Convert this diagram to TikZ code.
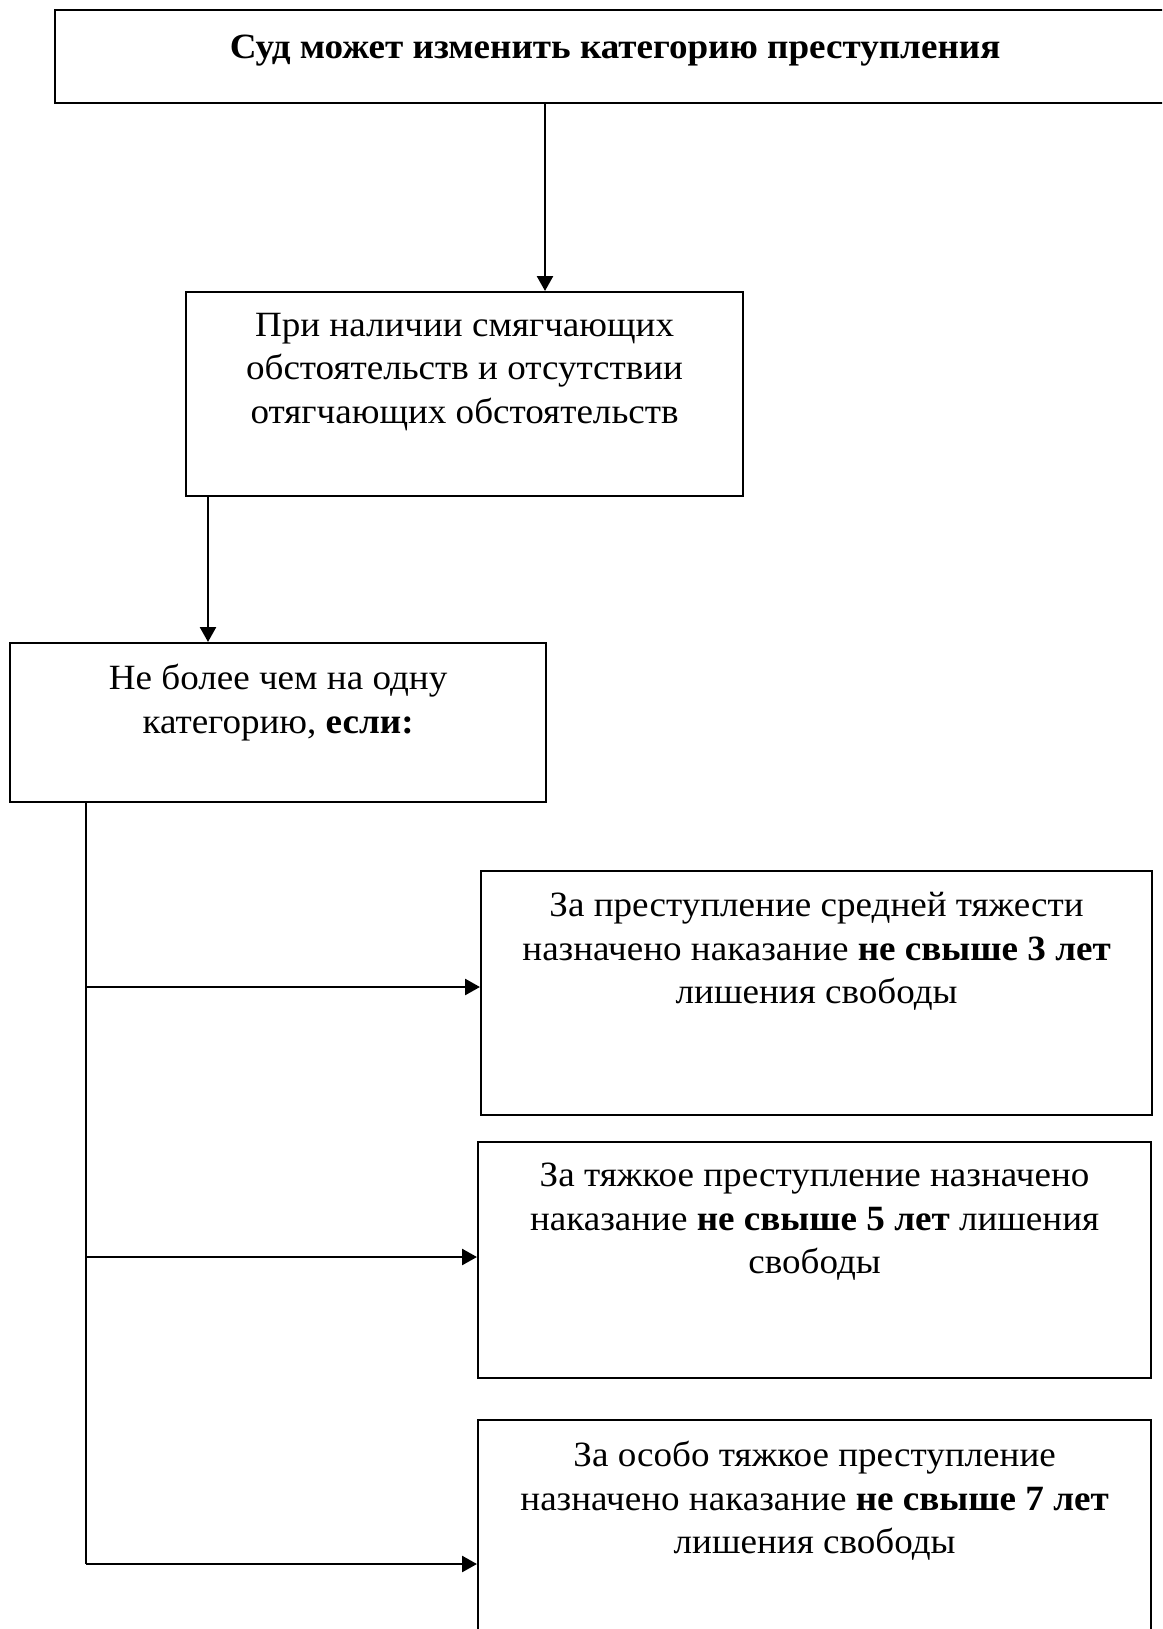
\documentclass[tikz,border=0pt]{standalone}
\usepackage{fontspec}
\setmainfont[FakeStretch=1.045]{Liberation Serif}
\usetikzlibrary{arrows.meta}
\begin{document}
\begin{tikzpicture}[x=1pt,y=-1pt,
  box/.style={draw, line width=2.2pt, rectangle, inner sep=0pt, anchor=north west},
  txt/.style={anchor=north, align=center, inner sep=0pt,
    font=\fontsize{35.5}{43.5}\selectfont, execute at begin node={\rule{0pt}{30pt}}},
  arr/.style={-{Triangle[length=15pt,width=16pt]}, line width=2.6pt},
  trunk/.style={line width=2.1pt}
]
\useasboundingbox (0,0) rectangle (1162,1629);
\clip (0,0) rectangle (1162,1629);
% boxes
\node[box, minimum width=1120pt, minimum height=93pt] (top) at (54,9) {};
\node[box, minimum width=557pt, minimum height=204pt] (cond) at (185,291) {};
\node[box, minimum width=536pt, minimum height=159pt] (one) at (9,642) {};
\node[box, minimum width=671pt, minimum height=244pt] (c1) at (480,870) {};
\node[box, minimum width=673pt, minimum height=236pt] (c2) at (477,1141) {};
\node[box, minimum width=673pt, minimum height=300pt] (c3) at (477,1419) {};
% texts
\node[txt] (ttop) at ([yshift=-19.5pt]top.north) {\textbf{Суд может изменить категорию преступления}};
\node[txt] (tcond) at ([yshift=-22pt]cond.north) {При наличии смягчающих\\обстоятельств и отсутствии\\отягчающих обстоятельств};
\node[txt] (tone) at ([yshift=-22pt]one.north) {Не более чем на одну\\категорию, \textbf{если:}};
\node[txt] (tc1) at ([yshift=-22pt]c1.north) {За преступление средней тяжести\\назначено наказание \textbf{не свыше 3 лет}\\лишения свободы};
\node[txt] (tc2) at ([yshift=-22pt]c2.north) {За тяжкое преступление назначено\\наказание \textbf{не свыше 5 лет} лишения\\свободы};
\node[txt] (tc3) at ([yshift=-22pt]c3.north) {За особо тяжкое преступление\\назначено наказание \textbf{не свыше 7 лет}\\лишения свободы};
% connectors
\coordinate (a1) at (545,0);
\coordinate (a2) at (208,0);
\draw[arr] (a1 |- top.south) -- (a1 |- cond.north);
\draw[arr] (a2 |- cond.south) -- (a2 |- one.north);
\coordinate (b1) at (86,987);
\coordinate (b2) at (86,1257);
\coordinate (b3) at (86,1564);
\draw[trunk] (b1 |- one.south) -- (b3);
\draw[arr] (b1) -- (b1 -| c1.west);
\draw[arr] (b2) -- (b2 -| c2.west);
\draw[arr] (b3) -- (b3 -| c3.west);
\end{tikzpicture}
\end{document}
